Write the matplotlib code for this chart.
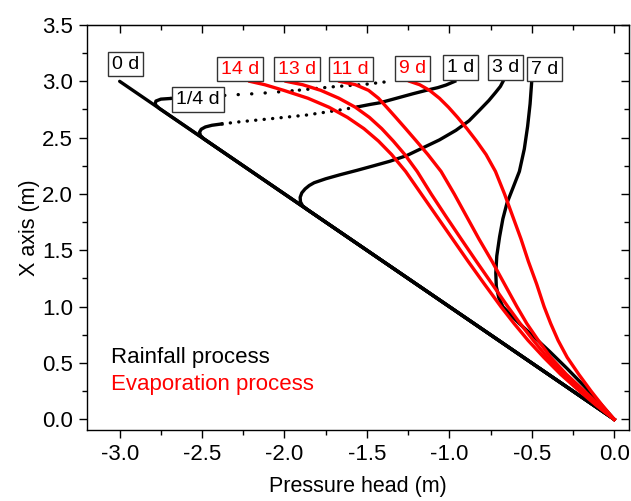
import matplotlib
matplotlib.use('Agg')
import matplotlib.pyplot as plt
from matplotlib.ticker import MultipleLocator

plt.rcParams['font.family'] = ['Liberation Sans', 'DejaVu Sans']

# ---- rainfall process (black) : pressure head h (m) vs height z (m) ----
h_0d = [-3.0, 0.0]
z_0d = [3.0, 0.0]

# 1/4 d : solid hook, then dotted part
h_q_hook = [0.0, -2.76, -2.785, -2.78, -2.75, -2.69]
z_q_hook = [0.0, 2.76, 2.795, 2.825, 2.842, 2.848]
h_q_dot1 = [-2.69, -2.50, -2.33, -2.15, -2.03, -1.91]
z_q_dot1 = [2.848, 2.862, 2.878, 2.893, 2.907, 2.922]
h_q_dot2 = [-1.91, -1.71, -1.50, -1.36]
z_q_dot2 = [2.922, 2.951, 2.975, 3.0]

# 1 d : solid hook, dotted middle, solid top
h_1_hook = [0.0, -2.45, -2.49, -2.51, -2.515, -2.505, -2.48, -2.44, -2.38]
z_1_hook = [0.0, 2.45, 2.49, 2.52, 2.55, 2.575, 2.595, 2.61, 2.622]
h_1_dot = [-2.38, -2.27, -2.07, -1.87, -1.67, -1.55]
z_1_dot = [2.622, 2.641, 2.67, 2.70, 2.744, 2.775]
h_1_top = [-1.55, -1.48, -1.42, -1.32, -1.22, -1.14, -1.07, -1.02, -0.967]
z_1_top = [2.775, 2.795, 2.81, 2.85, 2.89, 2.92, 2.944, 2.967, 3.0]

h_3d = [0.0, -1.80, -1.86, -1.89, -1.903, -1.905, -1.895, -1.875, -1.85, -1.82,
        -1.75, -1.665, -1.56, -1.46, -1.362, -1.26, -1.16, -1.06, -0.96, -0.88,
        -0.816, -0.76, -0.72, -0.69, -0.674]
z_3d = [0.0, 1.80, 1.86, 1.895, 1.93, 1.97, 2.01, 2.045, 2.075, 2.10,
        2.135, 2.17, 2.21, 2.25, 2.29, 2.34, 2.41, 2.48, 2.565, 2.65,
        2.745, 2.83, 2.90, 2.955, 3.0]

h_7d = [-0.50, -0.51, -0.525, -0.545, -0.575, -0.615, -0.65, -0.675, -0.695, -0.712,
        -0.718, -0.715, -0.70, -0.675, -0.63, -0.575, -0.50, -0.39, -0.285, -0.185,
        -0.09, 0.0]
z_7d = [3.0, 2.80, 2.60, 2.40, 2.20, 2.05, 1.92, 1.78, 1.62, 1.45,
        1.30, 1.18, 1.08, 1.00, 0.93, 0.85, 0.75, 0.60, 0.45, 0.30,
        0.15, 0.0]

# ---- evaporation process (red) ----
z_evap = [3.0, 2.97, 2.92, 2.85, 2.77, 2.68, 2.58, 2.47, 2.35, 2.20, 2.00, 1.80,
          1.60, 1.40, 1.20, 1.00, 0.85, 0.70, 0.55, 0.40, 0.25, 0.12, 0.0]
h_9d = [-1.24, -1.18, -1.12, -1.06, -1.005, -0.95, -0.893, -0.835, -0.777, -0.72, -0.665, -0.615,
        -0.565, -0.52, -0.47, -0.425, -0.385, -0.34, -0.285, -0.215, -0.14, -0.07, 0.0]
h_11d = [-1.665, -1.57, -1.49, -1.43, -1.38, -1.325, -1.265, -1.20, -1.13, -1.05, -0.97, -0.895,
         -0.82, -0.74, -0.665, -0.59, -0.53, -0.46, -0.385, -0.29, -0.18, -0.085, 0.0]
h_13d = [-1.99, -1.89, -1.78, -1.67, -1.57, -1.485, -1.41, -1.34, -1.27, -1.195, -1.11, -1.02,
         -0.928, -0.835, -0.74, -0.645, -0.57, -0.49, -0.405, -0.31, -0.20, -0.10, 0.0]
h_14d = [-2.21, -2.12, -2.005, -1.858, -1.73, -1.618, -1.518, -1.43, -1.35, -1.265, -1.17, -1.075,
         -0.98, -0.885, -0.787, -0.687, -0.607, -0.522, -0.427, -0.325, -0.21, -0.105, 0.0]

# curve labels: text, colour, position
labels = ['0 d', '1/4 d', '14 d', '13 d', '11 d', '9 d', '1 d', '3 d', '7 d']
label_colors = ['black', 'black', 'red', 'red', 'red', 'red', 'black', 'black', 'black']
label_h = [-2.964, -2.524, -2.272, -1.926, -1.598, -1.222, -0.931, -0.661, -0.423]
label_z = [3.153, 2.842, 3.109, 3.109, 3.109, 3.117, 3.126, 3.126, 3.109]

fig = plt.figure(figsize=(6.31, 5.01), dpi=100)
ax = fig.add_axes([0.1374, 0.1417, 0.8594, 0.8084])

lw = 2.4
dot_a = (0, (0.05, 4.0))
dot_b = (0, (0.05, 2.5))

# rainfall
ax.plot(h_0d, z_0d, color='black', lw=lw, solid_capstyle='round')
ax.plot(h_q_hook, z_q_hook, color='black', lw=lw)
ax.plot(h_q_dot1, z_q_dot1, color='black', lw=lw, linestyle=dot_a, dash_capstyle='round')
ax.plot(h_q_dot2, z_q_dot2, color='black', lw=lw, linestyle=dot_b, dash_capstyle='round')
ax.plot(h_1_hook, z_1_hook, color='black', lw=lw)
ax.plot(h_1_dot, z_1_dot, color='black', lw=lw, linestyle=dot_b, dash_capstyle='round')
ax.plot(h_1_top, z_1_top, color='black', lw=lw)
ax.plot(h_3d, z_3d, color='black', lw=lw)
ax.plot(h_7d, z_7d, color='black', lw=lw)

# evaporation
for h in (h_9d, h_11d, h_13d, h_14d):
    ax.plot(h, z_evap, color='red', lw=lw)

# labels in boxes
for txt, c, x, y in zip(labels, label_colors, label_h, label_z):
    ax.text(x, y, txt, color=c, fontsize=14, ha='center', va='center', zorder=10,
            bbox=dict(boxstyle='square,pad=0.2', fc='white', ec='#333333', lw=1.0))

ax.text(-3.055, 0.50, 'Rainfall process', color='black', fontsize=16, ha='left', va='baseline')
ax.text(-3.055, 0.26, 'Evaporation process', color='red', fontsize=16, ha='left', va='baseline')

ax.set_xlim(-3.2, 0.09)
ax.set_ylim(-0.095, 3.5)
ax.xaxis.set_major_locator(MultipleLocator(0.5))
ax.xaxis.set_minor_locator(MultipleLocator(0.25))
ax.yaxis.set_major_locator(MultipleLocator(0.5))
ax.yaxis.set_minor_locator(MultipleLocator(0.25))
ax.xaxis.set_major_formatter(plt.FormatStrFormatter('%.1f'))
ax.yaxis.set_major_formatter(plt.FormatStrFormatter('%.1f'))
ax.tick_params(which='major', direction='out', length=6, width=1, labelsize=16, pad=4)
ax.tick_params(which='minor', direction='out', length=3.5, width=1)

# inward ticks on top and right
top = ax.secondary_xaxis('top')
right = ax.secondary_yaxis('right')
for sec in (top, right):
    axis = sec.xaxis if sec is top else sec.yaxis
    axis.set_major_locator(MultipleLocator(0.5))
    axis.set_minor_locator(MultipleLocator(0.25))
    sec.tick_params(which='major', direction='in', length=6, width=1)
    sec.tick_params(which='minor', direction='in', length=3.5, width=1)
    sec.tick_params(labeltop=False, labelright=False)

for s in ax.spines.values():
    s.set_linewidth(1.0)

ax.set_xlabel('Pressure head (m)', fontsize=15.5, labelpad=8)
ax.set_ylabel('X axis (m)', fontsize=15.5, labelpad=1)

fig.savefig('out.png', dpi=100)
